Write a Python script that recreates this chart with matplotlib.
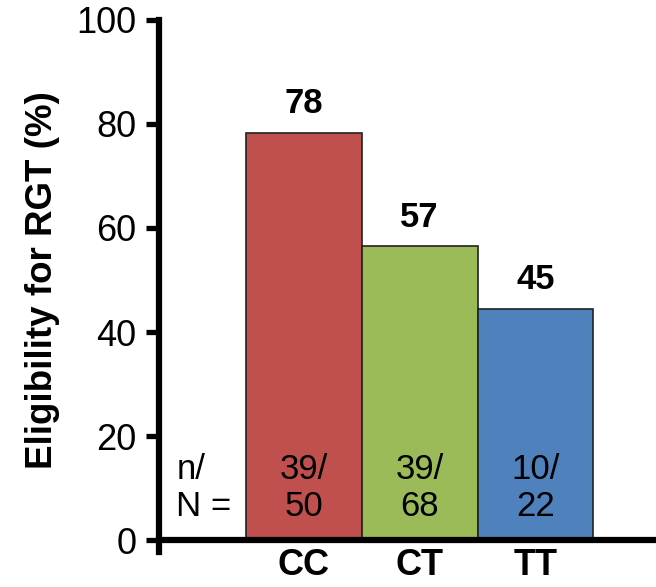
import matplotlib
matplotlib.use("Agg")
import matplotlib.pyplot as plt

categories = ["CC", "CT", "TT"]
values = [78.3, 56.5, 44.5]
value_labels = ["78", "57", "45"]
counts = ["39/\n50", "39/\n68", "10/\n22"]
colors = ["#C0504D", "#9BBB59", "#4F81BD"]
yticks = [0, 20, 40, 60, 80, 100]

plt.rcParams['font.family'] = ['Liberation Sans', 'DejaVu Sans']

fig = plt.figure(figsize=(6.56, 5.87), dpi=100)
ax = fig.add_axes([0.2425, 0.0596, 0.7575, 0.9064])

x = list(range(len(categories)))
ax.bar(x, values, width=1.0, color=colors, edgecolor="#222222", linewidth=1.2, zorder=2)

for xi, v, lab, c in zip(x, values, value_labels, counts):
    ax.text(xi, v + 2.4, lab, ha="center", va="bottom", fontsize=25, fontweight="bold")
    ax.text(xi, 10.0, c, ha="center", va="center", fontsize=25, linespacing=1.17)

ax.text(-1.1, 10.0, "n/\nN =", ha="left", va="center", fontsize=25, linespacing=1.17)

ax.set_xlim(-1.25, 3.04)
ax.set_ylim(-2.3, 100)

for s in ["top", "right"]:
    ax.spines[s].set_visible(False)
ax.spines["bottom"].set_position(("data", 0))
ax.spines["bottom"].set_linewidth(4.5)
ax.spines["left"].set_linewidth(4.5)
ax.spines["left"].set_bounds(-2.3, 100)

ax.set_yticks(yticks)
ax.set_xticks(x)
ax.set_xticklabels(categories)
ax.tick_params(axis="y", direction="out", length=9.4, width=3.8, labelsize=26, pad=7)
ax.tick_params(axis="x", length=0, pad=6, labelsize=26)
for t in ax.get_xticklabels():
    t.set_fontweight("bold")
ax.set_ylabel("Eligibility for RGT (%)", fontsize=26.5, fontweight="bold")
ax.yaxis.set_label_coords(-0.2, 0.511)

fig.savefig("out.png", dpi=100)
